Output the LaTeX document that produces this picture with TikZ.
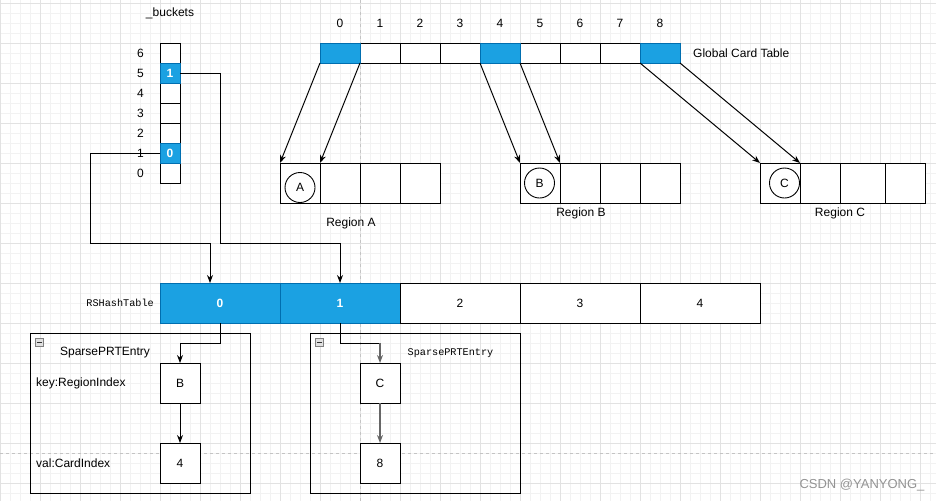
\documentclass[tikz,border=0pt]{standalone}
\usepackage{fontspec}
\setmainfont{Liberation Sans}
\setmonofont{Liberation Mono}
\usetikzlibrary{arrows.meta}
\definecolor{dblue}{HTML}{1BA1E2}
\definecolor{dblueline}{HTML}{006EAF}
\definecolor{gridmaj}{HTML}{E2E2E2}
\definecolor{gridmin}{HTML}{F2F2F2}
\definecolor{pageline}{HTML}{C4C4C4}
\definecolor{arrgray}{HTML}{666666}
\tikzset{
  txt/.style={font=\fontsize{12}{14}\selectfont, inner sep=0pt},
  monotxt/.style={font=\ttfamily\fontsize{10.2}{12}\selectfont, inner sep=0pt},
  cellbox/.style={draw=black, line width=1pt, fill=white, inner sep=0pt, outer sep=0pt,
    minimum width=#1, font=\fontsize{12}{14}\selectfont},
  cellbox/.default=40pt,
  bluecell/.style={cellbox=#1, fill=dblue, draw=dblueline, text=white},
  bluecell/.default=40pt,
  regcircle/.style={draw=black, line width=0.9pt, circle, minimum size=30pt, inner sep=0pt,
    font=\fontsize{12}{14}\selectfont},
  conn/.style={draw=black, line width=1pt, -{Stealth[length=8pt,width=6pt]}},
  plain/.style={draw=black, line width=1pt},
  container/.style={draw=black, line width=1pt},
  minusicon/.style={draw=gray, fill=black!12, line width=0.6pt},
}
\begin{document}
\begin{tikzpicture}[x=1pt,y=-1pt]
\useasboundingbox (0,0) rectangle (936,501);
\fill[white] (0,0) rectangle (936,501);
% grid
\foreach \i in {0,10,...,930} \draw[gridmin, line width=0.6pt] (\i,0) -- (\i,501);
\foreach \j in {3,13,...,493} \draw[gridmin, line width=0.6pt] (0,\j) -- (936,\j);
\foreach \i in {0,40,...,920} \draw[gridmaj, line width=0.8pt] (\i,0) -- (\i,501);
\foreach \j in {3,43,...,483} \draw[gridmaj, line width=0.8pt] (0,\j) -- (936,\j);
% page boundaries
\draw[pageline, line width=0.8pt, dash pattern=on 3pt off 3pt] (360,0) -- (360,501);
\draw[pageline, line width=0.8pt, dash pattern=on 3pt off 3pt] (0,453) -- (936,453);

% buckets
\node[txt] (bucketslabel) at (170,13) {\_buckets};
\foreach \r/\y in {6/53,4/93,3/113,2/133,0/173} {
  \node[cellbox=20pt, minimum height=20pt] (b\r) at (170,\y) {};
}
\node[bluecell=20pt, minimum height=20pt, font=\bfseries\fontsize{12}{14}\selectfont] (b5) at (170,73) {1};
\node[bluecell=20pt, minimum height=20pt, font=\bfseries\fontsize{12}{14}\selectfont] (b1) at (170,153) {0};
\foreach \r/\y in {6/53,5/73,4/93,3/113,2/133,1/153,0/173} {
  \node[txt] (bl\r) at (140.5,\y) {\r};
}

% global card table
\foreach \i in {0,...,8} {
  \pgfmathsetmacro{\cx}{340+40*\i}
  \node[txt] (gl\i) at (\cx,23) {\i};
}
\foreach \i in {1,2,3,5,6,7} {
  \pgfmathsetmacro{\cx}{340+40*\i}
  \node[cellbox, minimum height=20pt] (g\i) at (\cx,53) {};
}
\foreach \i in {0,4,8} {
  \pgfmathsetmacro{\cx}{340+40*\i}
  \node[bluecell, minimum height=20pt] (g\i) at (\cx,53) {};
}
\node[txt, anchor=west] (gctlabel) at (693,53) {Global Card Table};

% regions
\foreach \n/\x in {0/300,1/340,2/380,3/420} \node[cellbox, minimum height=40pt] (ra\n) at (\x,183) {};
\foreach \n/\x in {0/540,1/580,2/620,3/660} \node[cellbox, minimum height=40pt] (rb\n) at (\x,183) {};
\node[cellbox, minimum height=40pt] (rc0) at (780,183) {};
\node[cellbox, minimum height=40pt] (rc1) at (820,183) {};
\node[cellbox=45pt, minimum height=40pt] (rc2) at (862.5,183) {};
\node[cellbox, minimum height=40pt] (rc3) at (905,183) {};
\node[regcircle] (ca) at (300,187.5) {A};
\node[regcircle] (cb) at (539.5,183) {B};
\node[regcircle] (cc) at (784.5,183) {C};
\node[txt] (rla) at (351,223) {Region A};
\node[txt] (rlb) at (581,213) {Region B};
\node[txt] (rlc) at (840,213) {Region C};

% card table -> regions
\draw[conn] (g0.south west) -- (ra0.north west);
\draw[conn] (g0.south east) -- (ra1.north west);
\draw[conn] (g4.south west) -- (rb0.north west);
\draw[conn] (g4.south east) -- (rb1.north west);
\draw[conn] (g8.south west) -- (rc0.north west);
\draw[conn] (g8.south east) -- (rc1.north west);

% RSHashTable
\node[monotxt, anchor=east] (rshlabel) at (154,303) {RSHashTable};
\node[bluecell=120pt, minimum height=40pt, font=\bfseries\fontsize{12}{14}\selectfont] (h0) at (220,303) {0};
\node[bluecell=120pt, minimum height=40pt, font=\bfseries\fontsize{12}{14}\selectfont] (h1) at (340,303) {1};
\node[cellbox=120pt, minimum height=40pt] (h2) at (460,303) {2};
\node[cellbox=120pt, minimum height=40pt] (h3) at (580,303) {3};
\node[cellbox=120pt, minimum height=40pt] (h4) at (700,303) {4};

% buckets -> hash table
\coordinate (h0top) at (210,283);
\draw[conn] (b1.west) -- (90,153) -- (90,243) -- (210,243) -- (h0top);
\draw[conn] (b5.east) -- (220,73) -- (220,243) -- (340,243) -- (h1.north);

% containers
\draw[container] (30,333) rectangle (250,493);
\draw[container] (310,333) rectangle (520,493);
\draw[minusicon] (35.5,338) rectangle (43.5,346);
\draw[black!80, line width=0.8pt] (37.3,342) -- (41.7,342);
\draw[minusicon] (315.5,338) rectangle (323.5,346);
\draw[black!80, line width=0.8pt] (317.3,342) -- (321.7,342);
\node[txt] (lt) at (105,353) {SparsePRTEntry};
\node[monotxt] (rt) at (450.5,353) {SparsePRTEntry};
\node[txt, anchor=west] (keyl) at (36,383) {key:RegionIndex};
\node[txt, anchor=west] (vall) at (36,463) {val:CardIndex};

\node[cellbox, minimum height=40pt] (eb) at (180,383) {B};
\node[cellbox, minimum height=40pt] (e4) at (180,463) {4};
\node[cellbox, minimum height=40pt] (ec) at (380,383) {C};
\node[cellbox, minimum height=40pt] (e8) at (380,463) {8};

\draw[conn] (h0.south) -- (220,343) -- (180,343) -- (eb.north);
\draw[conn] (eb.south) -- (e4.north);
\draw[plain] (h1.south) -- (340,343) -- (380.5,343);
\draw[conn, draw=arrgray, line width=1.5pt] (380,343) -- (ec.north);
\draw[conn, draw=arrgray, line width=1.5pt] (ec.south) -- (e8.north);

% watermark
\node[font=\fontsize{13}{15}\selectfont, text=black!42, inner sep=0pt] (wm) at (862,485) {CSDN @YANYONG\_};
\end{tikzpicture}
\end{document}
